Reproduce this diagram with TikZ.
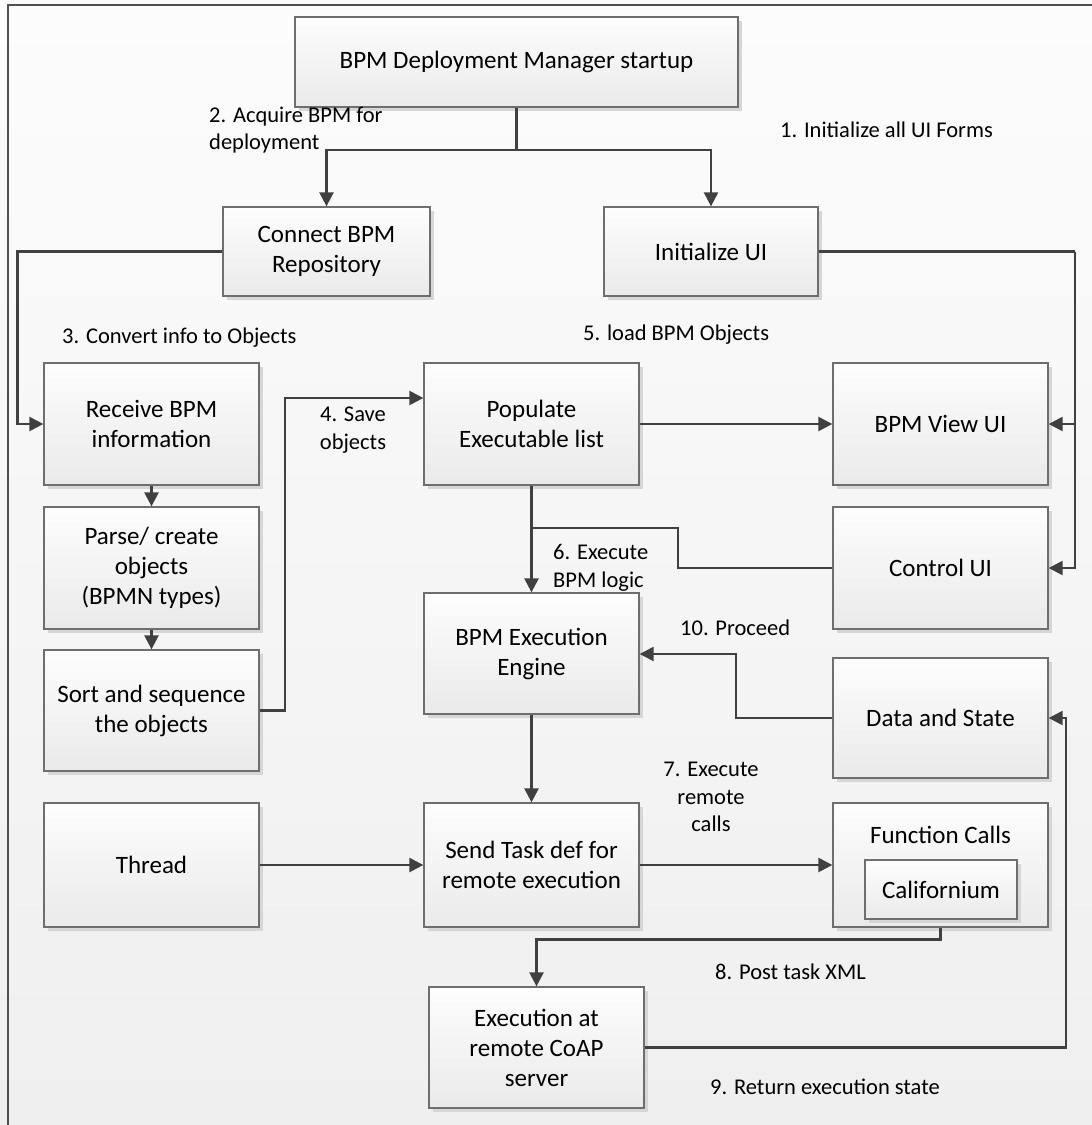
\documentclass[tikz,border=0pt]{standalone}
\usepackage{fontspec}
\setmainfont{Carlito}
\usetikzlibrary{arrows.meta,shadows}
\definecolor{boxedge}{HTML}{6E6E6E}
\definecolor{boxtop}{HTML}{FDFDFD}
\definecolor{boxbot}{HTML}{EAEAEA}
\definecolor{shadowgray}{HTML}{D6D6D6}
\definecolor{wiregray}{HTML}{404040}
\definecolor{bgtop}{HTML}{FCFCFC}
\definecolor{bgbot}{HTML}{EFEFEF}
\definecolor{framegray}{HTML}{505050}
\newcommand\boxfont{\fontsize{25}{30}\selectfont}
\newcommand\lblfont{\fontsize{22.5}{27.5}\selectfont}
\begin{document}
\begin{tikzpicture}[x=1pt,y=-1pt,
  box/.style={draw=boxedge, line width=1.3pt, top color=boxtop, bottom color=boxbot,
    minimum width=215pt, minimum height=122pt, align=center, font=\boxfont, inner sep=2pt,
    general shadow={fill=shadowgray, shadow xshift=4pt, shadow yshift=-4pt}},
  lbl/.style={font=\lblfont, inner sep=0pt, text=black},
  wire/.style={draw=wiregray, line width=2.4pt},
  flow/.style={wire, -{Triangle[length=14pt,width=14pt]}},
]
% page background and frame
\path[top color=bgtop, bottom color=bgbot] (0,0) rectangle (1092,1125);
\useasboundingbox (0,0) rectangle (1092,1125);
\draw[framegray, line width=2pt] (8,1125) -- (8,5) -- (1092,5);

% process boxes
\node[box, minimum width=443pt, minimum height=90pt] (start) at (516.5,62) {BPM Deployment Manager startup};
\node[box, minimum width=207pt, minimum height=89pt] (conn) at (326.5,251.5) {Connect BPM\\Repository};
\node[box, minimum width=214pt, minimum height=89pt] (init) at (711,251.5) {Initialize UI};
\node[box] (recv) at (151.5,424) {Receive BPM\\information};
\node[box] (parse) at (151.5,568) {Parse/ create\\objects\\(BPMN types)};
\node[box, minimum height=121pt] (sort) at (151.5,710.5) {Sort and sequence\\the objects};
\node[box] (pop) at (531.5,424) {Populate\\Executable list};
\node[box] (view) at (940.5,424) {BPM View UI};
\node[box] (ctrl) at (940.5,568) {Control UI};
\node[box, minimum height=121pt] (exec) at (531.5,653.5) {BPM Execution\\Engine};
\node[box, minimum height=120pt] (data) at (940.5,718) {Data and State};
\node[box, minimum height=124pt] (thread) at (151.5,865) {Thread};
\node[box, minimum height=124pt] (send) at (531.5,865) {Send Task def for\\remote execution};
\node[box, minimum height=124pt] (func) at (940.5,865) {};
\node[font=\boxfont, inner sep=0pt] (functitle) at (940.5,835) {Function Calls};
\node[box, minimum width=152pt, minimum height=59pt] (calif) at (941,889.5) {Californium};
\node[box, minimum height=121pt] (remote) at (536.5,1047.5) {Execution at\\remote CoAP\\server};

% step labels
\node[lbl, anchor=west, align=left] (l2) at (209,130) {2. Acquire BPM for\\deployment};
\node[lbl, anchor=west] (l1) at (780,130) {1. Initialize all UI Forms};
\node[lbl, anchor=west] (l3) at (62,338) {3. Convert info to Objects};
\node[lbl, anchor=west] (l5) at (583,335) {5. load BPM Objects};
\node[lbl, align=center] (l4) at (353,430) {4. Save\\objects};
\node[lbl, anchor=west, align=left] (l6) at (553,568) {6. Execute\\BPM logic};
\node[lbl, anchor=west] (l10) at (680,628) {10. Proceed};
\node[lbl, align=center] (l7) at (711,797) {7. Execute\\remote\\calls};
\node[lbl, anchor=west] (l8) at (715,972) {8. Post task XML};
\node[lbl, anchor=west] (l9) at (710,1087) {9. Return execution state};

% connectors
\coordinate (j0) at (516.5,150);
\draw[wire] (start.south) -- (j0);
\draw[flow] (j0) -| (conn.north);
\draw[flow] (j0) -| (init.north);

\draw[flow] (conn.west) -- ++(-205,0) |- (recv.west);
\draw[flow] (recv.south) -- (parse.north);
\draw[flow] (parse.south) -- (sort.north);

\coordinate (s1) at (285,398);
\draw[flow] (sort.east) -| (s1) -- (s1 -| pop.west);
\draw[flow] (pop.east) -- (view.west);

\coordinate (r1) at (1075,251.5);
\draw[wire] (init.east) -- (r1);
\draw[flow] (r1) |- (view.east);
\draw[flow] (r1) |- (ctrl.east);

\draw[flow] (pop.south) -- (exec.north);
\coordinate (c1) at (678,528);
\draw[wire] (ctrl.west) -| (c1) -- (c1 -| pop.south);

\coordinate (d1) at (736,654);
\draw[flow] (data.west) -| (d1) -- (d1 -| exec.east);

\draw[flow] (exec.south) -- (send.north);
\draw[flow] (thread.east) -- (send.west);
\draw[flow] (send.east) -- (func.west);
\draw[flow] (func.south) -- ++(0,12) -| (remote.north);

\coordinate (r2) at (1066,1047.5);
\draw[flow] (remote.east) -- (r2) |- (data.east);
\end{tikzpicture}
\end{document}
